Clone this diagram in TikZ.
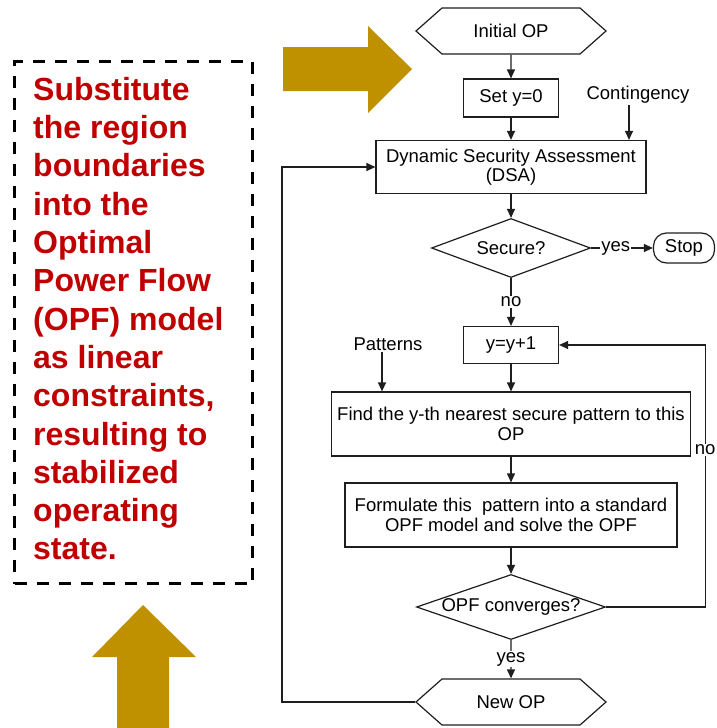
\documentclass[tikz,border=0pt]{standalone}
\usepackage{fontspec}
\setmainfont{Liberation Sans}
\usepackage{xcolor}
\definecolor{dsagold}{RGB}{191,144,0}
\definecolor{dsared}{RGB}{192,0,0}
\definecolor{dsaline}{RGB}{30,30,30}
\usetikzlibrary{arrows.meta,positioning,shapes.geometric,shapes.symbols,calc}

\begin{document}
\begin{tikzpicture}[x=1pt,y=-1pt,
  dsabox/.style={draw=dsaline,line width=1.2pt,minimum width=95pt,minimum height=38pt,
    align=center,inner sep=2pt,font=\fontsize{18.5}{19.5}\selectfont},
  dsahex/.style={draw=dsaline,line width=1.2pt,signal,signal to=east and west,signal pointer angle=83,
    minimum width=190pt,minimum height=46pt,inner sep=2pt,font=\fontsize{18.5}{19.5}\selectfont},
  dsadiam/.style={draw=dsaline,line width=1.2pt,diamond,inner sep=0pt,aspect=2.9,
    font=\fontsize{18.5}{19.5}\selectfont},
  dsalbl/.style={inner sep=1pt,font=\fontsize{18.5}{19.5}\selectfont},
  dsaarr/.style={-{Triangle[length=9pt,width=8pt]},line width=1.2pt,draw=dsaline}
]
  \useasboundingbox (0,0) rectangle (717,728);
  % Summary box
  \node[draw,line width=3pt,dash pattern=on 12pt off 10pt,anchor=north west,
    minimum width=238pt,minimum height=522pt] (substbox) at (13,60) {};
  \node[anchor=north west,inner sep=0pt,align=left,text=dsared,
    font=\bfseries\fontsize{32}{38.3}\selectfont] (substtxt) at (33,77) {Substitute\\the region\\boundaries\\into the\\Optimal\\Power Flow\\(OPF) model\\as linear\\constraints,\\resulting to\\stabilized\\operating\\state.};
  % Big arrows
  \fill[dsagold] (283,47) -- (368,47) -- (368,26) -- (412,69) -- (368,113) -- (368,91) -- (283,91) -- cycle;
  \fill[dsagold] (117,728) -- (117,657) -- (92,657) -- (143,605) -- (196,657) -- (169,657) -- (169,728) -- cycle;
  % Flowchart
  \node[dsahex] (init) at (511,31) {Initial OP};
  \node[dsabox] (sety) at (511,98) {Set y=0};
  \node[dsalbl] (cont) at (638,95) {Contingency};
  \node[dsabox,minimum width=270pt,minimum height=53pt] (dsa) at (511,167) {Dynamic Security Assessment\\(DSA)};
  \node[dsadiam,minimum width=159pt,minimum height=59pt] (sec) at (511,248) {Secure?};
  \node[dsabox,rounded corners=13pt,minimum width=61pt,minimum height=30pt] (stop) at (684,248) {Stop};
  \node[dsabox,minimum height=37pt] (incr) at (511,345) {y=y+1};
  \node[dsalbl] (pat) at (388,344) {Patterns};
  \node[dsabox,minimum width=359pt,minimum height=64pt] (find) at (511,424) {Find the y-th nearest secure pattern to this\\OP};
  \node[dsabox,minimum width=332pt,minimum height=64pt] (form) at (511,515) {Formulate this\ \ pattern into a standard\\OPF model and solve the OPF};
  \node[dsadiam,minimum width=189pt,minimum height=65pt] (conv) at (511,607) {OPF converges?};
  \node[dsahex] (newop) at (511,702) {New OP};
  % Arrows
  \draw[dsaarr] (init) -- (sety);
  \draw[dsaarr] (sety) -- (dsa);
  \draw[dsaarr] ([xshift=-9pt]cont.south) -- ([xshift=-9pt]cont.south |- dsa.north);
  \draw[dsaarr] (dsa) -- (sec);
  \draw[dsaarr] (sec) -- node[dsalbl,fill=white,pos=0.4] {yes} (stop);
  \draw[dsaarr] (sec) -- node[dsalbl,fill=white] {no} (incr);
  \draw[dsaarr] (incr) -- (find);
  \draw[dsaarr] ([xshift=-6pt]pat.south) -- ([xshift=-6pt]pat.south |- find.north);
  \draw[dsaarr] (find) -- (form);
  \draw[dsaarr] (form) -- (conv);
  \draw[dsaarr] (conv) -- node[dsalbl,fill=white] {yes} (newop);
  % Loops
  \draw[dsaarr] (conv.east) -- ++(99,0) |- node[dsalbl,fill=white,pos=0.3] {no} (incr.east);
  \draw[dsaarr] (newop.west) -- ++(-133,0) |- (dsa.west);
\end{tikzpicture}
\end{document}
